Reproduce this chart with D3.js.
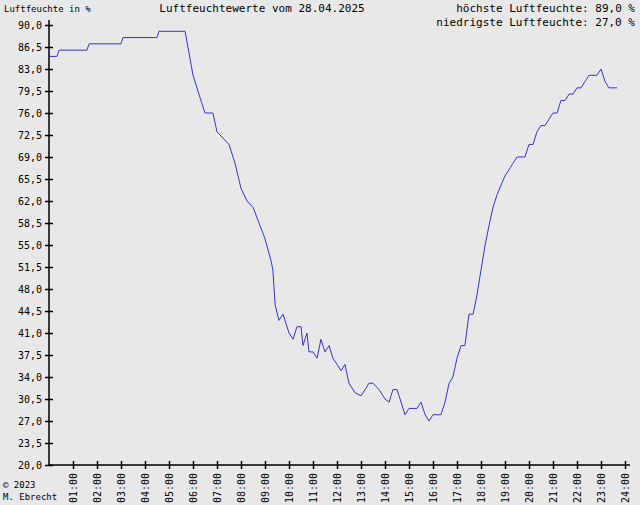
<!DOCTYPE html><html><head><meta charset="utf-8"><script src="https://cdn.jsdelivr.net/npm/d3@7"></script>
<style>body{margin:0;background:#e8e8e8}text{font-family:"DejaVu Sans Mono",monospace;font-size:10px;fill:#000}</style></head><body><svg id="c" width="640" height="505"></svg><script>
const times=[0,0.33,0.42,1.58,1.67,3,3.08,4.5,4.58,5.5,5.67,6,6.33,6.5,6.83,7,7.5,7.75,8,8.25,8.5,9,9.25,9.33,9.42,9.58,9.75,10,10.17,10.33,10.5,10.58,10.75,10.83,11,11.17,11.33,11.5,11.67,11.83,12,12.17,12.33,12.5,12.75,13,13.17,13.33,13.5,13.75,14,14.17,14.33,14.5,14.67,14.83,15,15.33,15.5,15.67,15.83,16,16.33,16.5,16.67,16.83,17,17.17,17.33,17.5,17.67,17.83,18,18.17,18.33,18.5,18.67,18.83,19,19.17,19.33,19.5,19.83,20,20.17,20.33,20.5,20.67,20.83,21,21.17,21.33,21.5,21.67,21.83,22,22.17,22.33,22.5,22.83,23,23.17,23.33,23.67];
const values=[85,85,86,86,87,87,88,88,89,89,89,82,78,76,76,73,71,68,64,62,61,56,52.5,51,45.5,43,44,41,40,42,42,39,41,38,38,37,40,38,39,37,36,35,36,33,31.5,31,32,33,33,32,30.5,30,32,32,30,28,29,29,30,28,27,28,28,30,33,34,37,39,39,44,44,47,51,55,58,61,63,64.5,66,67,68,69,69,71,71,73,74,74,75,76,76,78,78,79,79,80,80,81,82,82,83,81,80,80];
const yTicks=[20,23.5,27,30.5,34,37.5,41,44.5,48,51.5,55,58.5,62,65.5,69,72.5,76,79.5,83,86.5,90];
const xTicks=d3.range(1,25);
const svg=d3.select("#c");
const x=d3.scaleLinear().domain([0,24]).range([49,625]);
const y=d3.scaleLinear().domain([20,90]).range([465,25]);
const fmt=v=>v.toFixed(1).replace(".",",");
const ya=svg.append("g").attr("transform","translate(49,0)").call(d3.axisLeft(y).tickValues(yTicks).tickFormat(fmt).tickSize(4).tickSizeOuter(0));
ya.selectAll(".tick line").attr("x2",4).attr("x1",-4);
ya.select(".domain").attr("d","M0,20V465");
const xa=svg.append("g").attr("transform","translate(0,465)").call(d3.axisBottom(x).tickValues(xTicks).tickFormat(h=>String(h).padStart(2,"0")+":00").tickSize(4).tickSizeOuter(0));
xa.selectAll(".tick line").attr("y1",-4).attr("y2",4);
xa.select(".domain").attr("d","M49,0H630");
xa.selectAll(".tick text").attr("transform","rotate(-90)").attr("text-anchor","end").attr("x",-8).attr("y",0).attr("dy","0.35em").attr("dx",0);
svg.selectAll(".domain,.tick line").attr("stroke","#000").attr("stroke-width",1.5);
svg.selectAll(".tick text").style("font-size","10px");
ya.selectAll(".tick text").attr("x",-7);
svg.append("path").datum(times.map((t,i)=>[t,values[i]])).attr("fill","none").attr("stroke","#3333dd").attr("stroke-width",1)
 .attr("d",d3.line().x(d=>x(d[0])).y(d=>y(d[1])));
svg.append("text").attr("x",4).attr("y",12).text("Luftfeuchte in %").style("font-size","9px");
svg.append("text").attr("x",262).attr("y",12).attr("text-anchor","middle").text("Luftfeuchtewerte vom 28.04.2025").style("font-size","11px");
svg.append("text").attr("x",635).attr("y",12).attr("text-anchor","end").text("höchste Luftfeuchte: 89,0 %").style("font-size","11px");
svg.append("text").attr("x",635).attr("y",26).attr("text-anchor","end").text("niedrigste Luftfeuchte: 27,0 %").style("font-size","11px");
svg.append("text").attr("x",3).attr("y",488).text("© 2023").style("font-size","9px");
svg.append("text").attr("x",3).attr("y",500).text("M. Ebrecht").style("font-size","9px");
</script></body></html>
